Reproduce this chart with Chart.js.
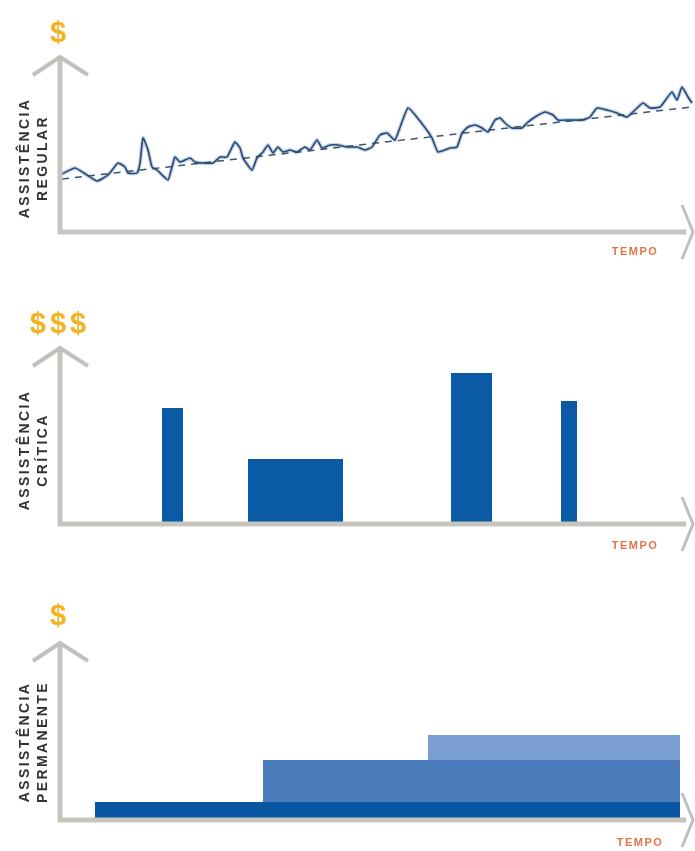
<!DOCTYPE html>
<html lang="pt">
<head>
<meta charset="UTF-8">
<title>Tipos de assistência</title>
<script src="https://cdn.jsdelivr.net/npm/chart.js@4.4.1/dist/chart.umd.min.js"></script>
<style>
  body { margin: 0; background: #fff; font-family: "Liberation Sans", Arial, sans-serif; }
  .page { position: relative; width: 695px; height: 851px; overflow: hidden; }
  .page canvas { position: absolute; left: 0; }
  /* cifrões amarelos no topo de cada eixo */
  .money { position: absolute; color: #f4b223; font-weight: bold; font-size: 29px; line-height: 1;
           transform: translate(-50%, -50%); white-space: nowrap; }
  /* etiqueta TEMPO do eixo horizontal */
  .tempo { position: absolute; color: #e2744a; font-weight: bold; font-size: 11px; letter-spacing: 1.5px;
           transform: translate(-50%, -50%); }
  /* etiquetas verticais do eixo y */
  .label { position: absolute; color: #333; font-weight: bold; font-size: 14px; letter-spacing: 2.4px;
           line-height: 18px; text-align: center; white-space: nowrap;
           transform: translate(-50%, -50%) rotate(-90deg); }
</style>
</head>
<body>
<div class="page">
  <canvas id="regular" width="695" height="285" style="top:0"></canvas>
  <canvas id="critica" width="695" height="285" style="top:285px"></canvas>
  <canvas id="permanente" width="695" height="281" style="top:570px"></canvas>

  <div class="money" style="left:58px; top:32px">$</div>
  <div class="money" style="left:58px; top:323px; letter-spacing:4px; padding-left:4px">$$$</div>
  <div class="money" style="left:58px; top:615px">$</div>

  <div class="label" style="left:33px; top:158px">ASSISTÊNCIA<br>REGULAR</div>
  <div class="label" style="left:33px; top:450px">ASSISTÊNCIA<br>CRÍTICA</div>
  <div class="label" style="left:33px; top:742px">ASSISTÊNCIA<br>PERMANENTE</div>

  <div class="tempo" style="left:635px; top:251px">TEMPO</div>
  <div class="tempo" style="left:635px; top:545px">TEMPO</div>
  <div class="tempo" style="left:640px; top:842px">TEMPO</div>
</div>

<script>
// Assistência regular: série ao longo do tempo
const regularTempo = [2, 15, 27, 37, 48, 58, 65, 68, 77, 80, 83, 88, 92, 97, 108, 112, 115, 120, 130, 135,
  142, 153, 160, 167, 175, 180, 183, 192, 197, 203, 208, 213, 218, 223, 230, 237, 245, 250, 257, 262,
  270, 278, 287, 297, 305, 312, 320, 327, 335, 348, 363, 372, 378, 390, 397, 402, 408, 415, 422, 428,
  435, 440, 445, 452, 462, 467, 475, 485, 493, 498, 510, 523, 530, 537, 547, 557, 567, 575, 583, 590,
  600, 607, 612, 617, 622, 628, 632];
const regularValor = [58, 64, 57, 51, 57, 69, 65, 59, 59, 69, 94, 82, 65, 62, 52, 65, 75, 70, 74, 70,
  69, 69, 75, 75, 90, 84, 74, 62, 74, 80, 87, 79, 85, 80, 82, 80, 85, 82, 92, 84,
  87, 87, 85, 85, 82, 85, 97, 99, 92, 124, 107, 94, 80, 84, 85, 99, 105, 107, 104, 100,
  112, 114, 109, 104, 104, 109, 115, 120, 117, 112, 112, 112, 115, 124, 122, 119, 115, 122, 129, 124,
  125, 134, 140, 132, 145, 135, 129];
// linha de tendência (tracejada)
const tendenciaTempo = [2, 632];
const tendenciaValor = [53, 125];

// Assistência crítica: picos de despesa (início, fim, valor)
const criticaInicio = [102, 188, 391, 501];
const criticaFim = [123, 283, 432, 517];
const criticaValor = [116, 65, 151, 123];

// Assistência permanente: camadas acumuladas (início, fim, base, topo)
const permInicio = [35, 203, 368];
const permFim = [620, 620, 620];
const permBase = [0, 18, 60];
const permTopo = [18, 60, 85];

// Junta dois arrays em pontos {x, y}
function pares(xs, ys) {
  return xs.map((x, i) => ({ x: x, y: ys[i] }));
}

// Desenha os eixos cinzentos com as setas
const eixos = {
  id: 'eixos',
  afterDatasetsDraw(chart) {
    const ctx = chart.ctx;
    const a = chart.chartArea;
    ctx.save();
    ctx.lineJoin = 'miter';
    ctx.strokeStyle = '#c6c5bd';
    ctx.lineWidth = 5;
    ctx.beginPath();
    ctx.moveTo(a.left, a.top);
    ctx.lineTo(a.left, a.bottom);
    ctx.lineTo(a.right - 9, a.bottom);
    ctx.stroke();
    ctx.strokeStyle = '#c0c0bc';
    ctx.lineWidth = 4;
    ctx.beginPath();
    ctx.moveTo(a.left - 27, a.top + 18);
    ctx.lineTo(a.left, a.top);
    ctx.lineTo(a.left + 28, a.top + 18);
    ctx.stroke();
    ctx.lineWidth = 3;
    ctx.beginPath();
    ctx.moveTo(a.right - 13, a.bottom - 27);
    ctx.lineTo(a.right - 2, a.bottom);
    ctx.lineTo(a.right - 13, a.bottom + 27);
    ctx.stroke();
    ctx.restore();
  }
};

// Opções comuns aos três gráficos
function opcoes(topo, baixo, yMax) {
  return {
    responsive: false,
    animation: false,
    layout: { padding: { left: 60, right: 0, top: topo, bottom: baixo } },
    scales: {
      x: { type: 'linear', display: false, min: 0, max: 635 },
      y: { display: false, min: 0, max: yMax }
    },
    plugins: { legend: { display: false }, tooltip: { enabled: false } }
  };
}

// Um retângulo preenchido entre base e topo
function bloco(inicio, fim, base, topo, cor) {
  return {
    data: [{ x: inicio, y: topo }, { x: fim, y: topo }],
    fill: { value: base },
    backgroundColor: cor,
    borderWidth: 0,
    pointRadius: 0
  };
}

new Chart(document.getElementById('regular'), {
  type: 'line',
  data: {
    datasets: [
      { data: pares(regularTempo, regularValor), borderColor: '#2a4870', borderWidth: 1.6,
        pointRadius: 0, tension: 0.15, order: 0 },
      { data: pares(regularTempo, regularValor), borderColor: 'rgba(140,175,215,0.55)', borderWidth: 4,
        pointRadius: 0, tension: 0.15, order: 2 },
      { data: pares(tendenciaTempo, tendenciaValor), borderColor: '#3c5470', borderWidth: 1.5,
        borderDash: [7, 6], pointRadius: 0, order: 1 }
    ]
  },
  options: opcoes(57, 53, 175),
  plugins: [eixos]
});

new Chart(document.getElementById('critica'), {
  type: 'line',
  data: {
    datasets: criticaInicio.map((ini, i) => bloco(ini, criticaFim[i], 0, criticaValor[i], '#0a5aa6'))
  },
  options: opcoes(63, 46, 176),
  plugins: [eixos]
});

const permCores = ['#0856a2', '#4a7bbb', '#7b9ed0'];
new Chart(document.getElementById('permanente'), {
  type: 'line',
  data: {
    datasets: permInicio.map((ini, i) => bloco(ini, permFim[i], permBase[i], permTopo[i], permCores[i]))
  },
  options: opcoes(73, 31, 177),
  plugins: [eixos]
});
</script>
</body>
</html>
